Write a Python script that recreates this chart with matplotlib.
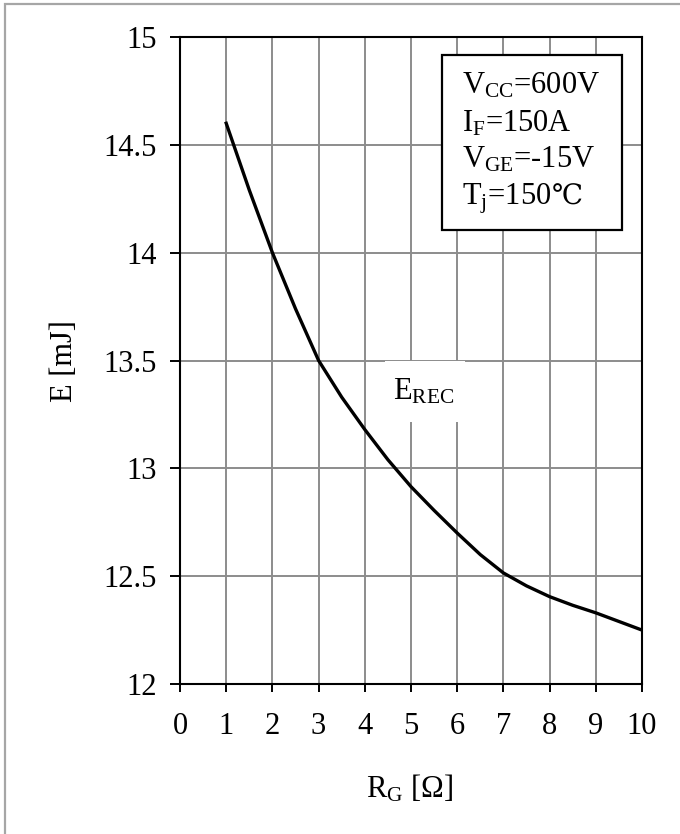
import matplotlib.pyplot as plt
from matplotlib.patches import Rectangle

# recovery energy vs gate resistance (every half ohm)
rg = [1, 1.5, 2, 2.5, 3, 3.5, 4, 4.5, 5, 5.5, 6, 6.5, 7, 7.5, 8, 8.5, 9, 9.5, 10]
e_rec = [14.60, 14.29, 14.00, 13.74, 13.50, 13.33, 13.18, 13.04, 12.915, 12.805,
         12.70, 12.60, 12.515, 12.455, 12.405, 12.365, 12.33, 12.29, 12.25]

x_ticks = list(range(0, 11))
y_ticks = [12, 12.5, 13, 13.5, 14, 14.5, 15]
y_ticklabels = ["12", "12.5", "13", "13.5", "14", "14.5", "15"]

conditions = [r"V$_{\mathrm{CC}}$=600V", r"I$_{\mathrm{F}}$=150A",
              r"V$_{\mathrm{GE}}$=-15V", r"T$_{\mathrm{j}}$=150"]
deg_c = "℃"

plt.rcParams['font.family'] = ['Liberation Serif', 'DejaVu Serif']
plt.rcParams['mathtext.fontset'] = 'custom'
plt.rcParams['mathtext.rm'] = 'Liberation Serif'
plt.rcParams['mathtext.it'] = 'Liberation Serif:italic'

fs = 22
W, H = 680, 834
fig = plt.figure(figsize=(6.8, 8.34), dpi=100)
ax = fig.add_axes([180/W, 1-684/H, 462/W, 647/H])


def axx(px):
    return (px - 180) / 462


def axy(py):
    return (684 - py) / 647


# outer frame of the picture
fig.patches.append(Rectangle((5/W, -0.1), 1.2, 1 - 4/H + 0.1, transform=fig.transFigure,
                             fill=False, edgecolor='#a6a6a6', lw=1.6, zorder=0))

ax.plot(rg, e_rec, color='black', lw=2.4, solid_joinstyle='round', zorder=4)

ax.set_xlim(0, 10)
ax.set_ylim(12, 15)
ax.set_xticks(x_ticks)
ax.set_yticks(y_ticks)
ax.set_yticklabels(y_ticklabels)
ax.grid(True, color='#8c8c8c', lw=1.4, zorder=1)
ax.set_axisbelow(True)
for s in ax.spines.values():
    s.set_linewidth(1.5)
ax.tick_params(direction='out', width=1.4, labelsize=fs)
ax.tick_params(axis='x', length=5.5, pad=15)
ax.tick_params(axis='y', length=7, pad=10)

ax.set_xlabel(r"R$_{\mathrm{G}}$ [Ω]", fontsize=fs, va='baseline')
ax.xaxis.set_label_coords(axx(409.5), axy(797))
ax.set_ylabel("E [mJ]", fontsize=fs)
ax.yaxis.set_label_coords(axx(79), axy(361))

# label for the curve, white box hides the grid behind it
ax.add_patch(Rectangle((axx(385), axy(422)), 80/462, 61/647,
                       transform=ax.transAxes, facecolor='white', edgecolor='none', zorder=2))
ax.text(axx(393), axy(400), r"E$_{\mathrm{REC}}$", transform=ax.transAxes,
        fontsize=fs, va='baseline', zorder=3)

# conditions box
ax.add_patch(Rectangle((axx(442.3), axy(230)), 180/462, 175/647,
                       transform=ax.transAxes, facecolor='white', edgecolor='black',
                       lw=1.6, zorder=5))
base = [93.5, 131, 167.5, 205]
texts = []
for txt, b in zip(conditions, base):
    t = ax.text(axx(462), axy(b), txt, transform=ax.transAxes,
                fontsize=fs, va='baseline', zorder=6)
    texts.append(t)

fig.canvas.draw()
bb = texts[-1].get_window_extent()
x_end = ax.transAxes.inverted().transform((bb.x1, bb.y0))[0]
ax.text(x_end, axy(base[-1]), deg_c, transform=ax.transAxes, fontsize=fs - 2,
        family=['DejaVu Serif', 'DejaVu Sans'], va='baseline', zorder=6)

fig.savefig("out.png", dpi=100)
